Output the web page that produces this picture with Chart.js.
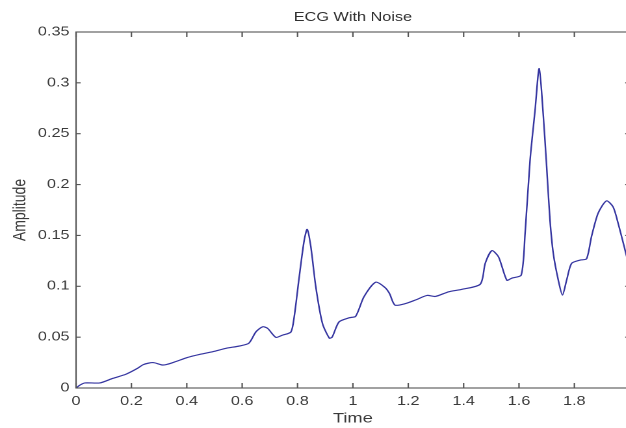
<!DOCTYPE html>
<html>
<head>
<meta charset="utf-8">
<script src="https://cdn.jsdelivr.net/npm/chart.js@4"></script>
<style>
  html, body { margin: 0; padding: 0; background: #fff; overflow: hidden; width: 626px; height: 428px; }
  #wrap { position: absolute; left: 0; top: 0; width: 500px; height: 428px; transform: scaleX(1.3); transform-origin: 0 0; }
  canvas { display: block; }
</style>
</head>
<body>
<div id="wrap"><canvas id="c" width="500" height="428" style="width:500px;height:428px"></canvas></div>
<script>
// ---- data ----
const times = [0, 0.015, 0.032, 0.086, 0.133, 0.18, 0.22, 0.243, 0.278, 0.314, 0.35, 0.40, 0.446, 0.494, 0.542, 0.59, 0.624,
  0.65, 0.674, 0.692, 0.722, 0.746, 0.776, 0.788, 0.806, 0.824, 0.835, 0.848, 0.866, 0.89, 0.915, 0.925, 0.95, 0.986, 1.01,
  1.04, 1.082, 1.115, 1.132, 1.152, 1.19, 1.226, 1.268, 1.298, 1.346, 1.394, 1.46, 1.478, 1.502, 1.526, 1.556, 1.574, 1.608,
  1.622, 1.64, 1.658, 1.673, 1.688, 1.70, 1.712, 1.724, 1.742, 1.757, 1.772, 1.79, 1.82, 1.844, 1.862, 1.886, 1.916, 1.94,
  1.958, 1.98, 1.99];
const amplitudes = [0, 0.003, 0.005, 0.005, 0.0095, 0.0135, 0.019, 0.023, 0.025, 0.0226, 0.025, 0.0298, 0.033, 0.0357, 0.039, 0.0413, 0.044,
  0.0553, 0.0602, 0.0586, 0.0498, 0.052, 0.055, 0.070, 0.109, 0.145, 0.156, 0.139, 0.0995, 0.0635, 0.049, 0.050, 0.065, 0.069, 0.0705,
  0.0897, 0.104, 0.099, 0.093, 0.0815, 0.083, 0.0865, 0.091, 0.090, 0.0946, 0.097, 0.102, 0.1225, 0.135, 0.129, 0.106, 0.108, 0.111,
  0.152, 0.224, 0.273, 0.314, 0.267, 0.217, 0.165, 0.132, 0.106, 0.0914, 0.106, 0.1225, 0.1257, 0.127, 0.149, 0.172, 0.184, 0.178,
  0.162, 0.139, 0.128];
const xTicks = [0, 0.2, 0.4, 0.6, 0.8, 1, 1.2, 1.4, 1.6, 1.8];
const yTicks = [0, 0.05, 0.1, 0.15, 0.2, 0.25, 0.3, 0.35];
const chartTitle = 'ECG With Noise';
const xTitle = 'Time';
const yTitle = 'Amplitude';

const points = times.map((t, i) => ({ x: t, y: amplitudes[i] }));
const FONT = "'Liberation Sans', Arial, Helvetica, sans-serif";
const AXIS = '#555555';
const fmt = v => String(Number(Number(v).toFixed(3)));

const boxPlugin = {
  id: 'matlabBox',
  afterDatasetsDraw(chart) {
    const { ctx, chartArea: { left, right, top, bottom }, scales: { x, y } } = chart;
    ctx.save();
    ctx.strokeStyle = AXIS;
    ctx.lineWidth = 1.1;
    ctx.strokeRect(left, top, right - left, bottom - top);
    ctx.beginPath();
    x.ticks.forEach(t => {
      const px = x.getPixelForValue(t.value);
      ctx.moveTo(px, bottom); ctx.lineTo(px, bottom - 5);
      ctx.moveTo(px, top); ctx.lineTo(px, top + 5);
    });
    y.ticks.forEach(t => {
      const py = y.getPixelForValue(t.value);
      ctx.moveTo(left, py); ctx.lineTo(left + 3.5, py);
      ctx.moveTo(right, py); ctx.lineTo(right - 3.5, py);
    });
    ctx.stroke();
    ctx.restore();
  }
};

new Chart(document.getElementById('c'), {
  type: 'line',
  data: {
    datasets: [{
      data: points,
      borderColor: '#3535a0',
      borderWidth: 1.2,
      pointRadius: 0,
      tension: 0.25,
      fill: false
    }]
  },
  options: {
    responsive: false,
    animation: false,
    devicePixelRatio: 2,
    layout: { padding: { left: 0, right: 15.6, top: 0, bottom: 0 } },
    plugins: {
      legend: { display: false },
      tooltip: { enabled: false },
      title: {
        display: true,
        text: chartTitle,
        fullSize: false,
        color: '#303030',
        font: { family: FONT, size: 12.5, weight: 'normal', lineHeight: 1.2 },
        padding: { top: 10, bottom: 7 }
      }
    },
    scales: {
      x: {
        type: 'linear',
        min: 0, max: 2,
        afterBuildTicks: s => { s.ticks = xTicks.map(v => ({ value: v })); },
        afterFit: s => { s.height = 40; },
        grid: { display: false, drawTicks: false },
        border: { display: false },
        ticks: { color: '#3a3a3a', padding: 6, maxRotation: 0, autoSkip: false, callback: v => fmt(v), font: { family: FONT, size: 12.5 } },
        title: { display: true, text: xTitle, color: '#3a3a3a', font: { family: FONT, size: 14, lineHeight: 1.2 }, padding: { top: 0, bottom: 1 } }
      },
      y: {
        type: 'linear',
        min: 0, max: 0.35,
        afterBuildTicks: s => { s.ticks = yTicks.map(v => ({ value: v })); },
        afterFit: s => { s.width = 58.5; },
        grid: { display: false, drawTicks: false },
        border: { display: false },
        ticks: { color: '#3a3a3a', padding: 5, autoSkip: false, callback: v => fmt(v), font: { family: FONT, size: 12.5 } },
        title: { display: true, text: yTitle, color: '#3a3a3a', font: { family: FONT, size: 14, lineHeight: 1.2 }, padding: { top: 7, bottom: 0 } }
      }
    }
  },
  plugins: [boxPlugin]
});
</script>
</body>
</html>
